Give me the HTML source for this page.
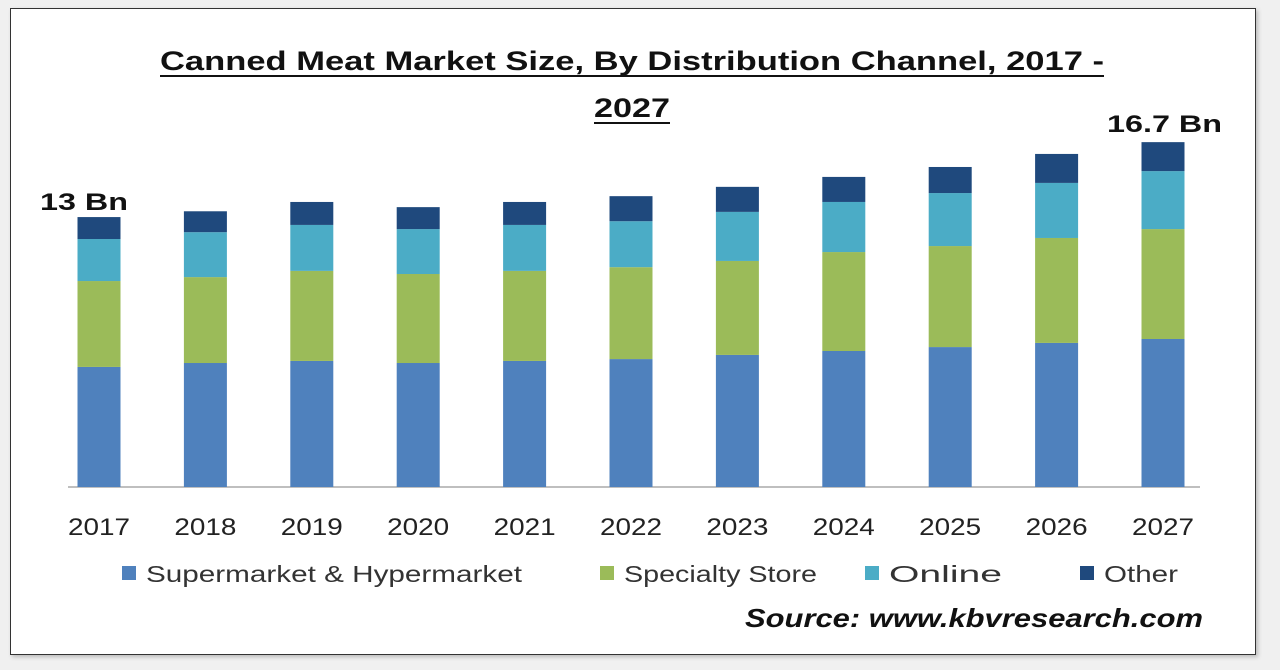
<!DOCTYPE html>
<html><head><meta charset="utf-8"><style>
body{margin:0;width:1280px;height:670px;background:#f0f0f0;overflow:hidden;font-family:"Liberation Sans",sans-serif}
#frame{position:absolute;left:10px;top:8px;width:1244px;height:645px;background:#fff;border:1px solid #333;box-shadow:2px 2px 4px #bbb}
</style></head><body>
<div id="frame"></div>
<svg id="chart" width="1280" height="670" style="position:absolute;left:0;top:0">
<g font-weight="bold" font-size="27" fill="#111">
<text x="160" y="70" textLength="944" lengthAdjust="spacingAndGlyphs">Canned Meat Market Size, By Distribution  Channel, 2017 -</text>
<text x="594" y="117" textLength="76" lengthAdjust="spacingAndGlyphs">2027</text>
<line x1="160" y1="76" x2="1104" y2="76" stroke="#111" stroke-width="2"/>
<line x1="594" y1="123" x2="670" y2="123" stroke="#111" stroke-width="2"/>
</g>
<line x1="68" y1="487" x2="1200" y2="487" stroke="#aaa" stroke-width="1.5"/>
<g id="bars"></g>
<g id="labels" font-size="24" fill="#222" text-anchor="middle"></g>
<text x="40" y="210" font-size="24" font-weight="bold" fill="#111" textLength="88" lengthAdjust="spacingAndGlyphs">13 Bn</text>
<text x="1107" y="132" font-size="24" font-weight="bold" fill="#111" textLength="115" lengthAdjust="spacingAndGlyphs">16.7 Bn</text>
<g font-size="23" fill="#333">
<rect x="122" y="566" width="14" height="14" fill="#4f81bd"/><text x="146" y="582" textLength="376" lengthAdjust="spacingAndGlyphs">Supermarket &amp; Hypermarket</text>
<rect x="600" y="566" width="14" height="14" fill="#9bbb59"/><text x="624" y="582" textLength="193" lengthAdjust="spacingAndGlyphs">Specialty Store</text>
<rect x="865" y="566" width="14" height="14" fill="#4bacc6"/><text x="889" y="582" textLength="113" lengthAdjust="spacingAndGlyphs">Online</text>
<rect x="1080" y="566" width="14" height="14" fill="#1f497d"/><text x="1104" y="582" textLength="74" lengthAdjust="spacingAndGlyphs">Other</text>
</g>
<text x="745" y="627" font-size="26" font-weight="bold" font-style="italic" fill="#111" textLength="458" lengthAdjust="spacingAndGlyphs">Source: www.kbvresearch.com</text>
</svg>
<script>
const years=["2017","2018","2019","2020","2021","2022","2023","2024","2025","2026","2027"];
const supermarket=[5.8,5.99,6.09,5.99,6.09,6.18,6.38,6.57,6.76,6.96,7.15];
const specialty=[4.15,4.15,4.35,4.30,4.35,4.44,4.54,4.78,4.88,5.07,5.31];
const online=[2.03,2.17,2.22,2.17,2.22,2.22,2.37,2.42,2.56,2.66,2.80];
const other=[1.06,1.01,1.11,1.06,1.11,1.21,1.21,1.21,1.26,1.40,1.40];
const seriesNames=["supermarket","specialty","online","other"];
const seriesColors=["#4f81bd","#9bbb59","#4bacc6","#1f497d"];
const NS="http://www.w3.org/2000/svg";
const baseY=487,pxPer=20.7,x0=99,step=106.4,bw=43;
const xPos=i=>x0+i*step;
const yPos=v=>baseY-v*pxPer;
const all=[supermarket,specialty,online,other];
const bars=document.getElementById('bars'),labels=document.getElementById('labels');
years.forEach((yr,i)=>{
  let cum=0;
  all.forEach((s,k)=>{
    const r=document.createElementNS(NS,'rect');
    const y1=yPos(cum+s[i]),y0=yPos(cum);
    r.setAttribute('x',xPos(i)-bw/2);r.setAttribute('y',y1);
    r.setAttribute('width',bw);r.setAttribute('height',y0-y1);
    r.setAttribute('fill',seriesColors[k]);
    
    
    bars.appendChild(r);cum+=s[i];
  });
  const t=document.createElementNS(NS,'text');
  t.setAttribute('x',xPos(i));t.setAttribute('y',535);t.textContent=yr;
  t.setAttribute('textLength',62);t.setAttribute('lengthAdjust','spacingAndGlyphs');
  
  
  labels.appendChild(t);
});
</script>
</body></html>
